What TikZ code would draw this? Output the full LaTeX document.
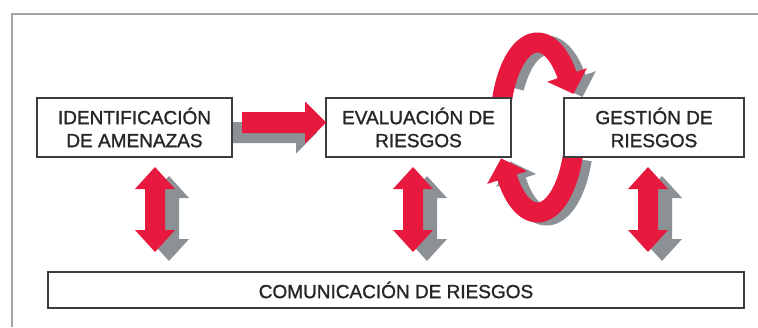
\documentclass[tikz,border=0pt]{standalone}
\usepackage{fontspec}
\setmainfont{Liberation Sans}
\newfontfamily\boxfont[FakeBold=1.3]{Liberation Sans}
\definecolor{ared}{HTML}{E8193E}
\definecolor{agray}{HTML}{8C9196}
\definecolor{boxline}{HTML}{3C3C3C}
\definecolor{framegray}{HTML}{A4A4A4}
\definecolor{txt}{HTML}{262626}
\newcommand\myvarrow[1]{(#1-10,189) -- (#1-20,189) -- (#1,167) -- (#1+20,189) -- (#1+10,189) -- (#1+10,230) -- (#1+20,230) -- (#1,252) -- (#1-20,230) -- (#1-10,230) -- cycle}
\newcommand\myharrow{(242,112) -- (305,112) -- (305,101.5) -- (326,122.5) -- (305,143.5) -- (305,133) -- (242,133) -- cycle}
\begin{document}
\begin{tikzpicture}[x=1pt,y=-1pt,
  box/.style={draw=boxline, line width=1.5pt, fill=white, inner sep=0pt, align=center,
    font=\boxfont\fontsize{19}{23}\selectfont, text=txt},
  redband/.style={draw=ared, line width=20pt},
  grayband/.style={draw=agray, line width=20pt},
  shadowshift/.style={shift={(9,3)}}
]
\useasboundingbox (0,0) rectangle (758,327);
\fill[white] (0,0) rectangle (758,327);
\draw[framegray, line width=1.5pt] (12,327) -- (12,14) -- (758,14);

% cycle arrow (shadow)
\begin{scope}[shadowshift]
\draw[grayband] plot[domain=150:36, samples=60] ({537.5+37.5*cos(\x)},{127.5-85*sin(\x)});
\fill[agray] (586.8,68.2) -- (573.5,93.9) -- (547.2,81.8) -- cycle;
\draw[grayband] plot[domain=-20:-146, samples=60] ({537.5+37.5*cos(\x)},{127.5-85*sin(\x)});
\fill[agray] (527.2,171.1) -- (501.1,158.4) -- (487.2,183.9) -- cycle;
\end{scope}
% cycle arrow (red)
\draw[redband] plot[domain=165:36, samples=60] ({537.5+37.5*cos(\x)},{127.5-85*sin(\x)});
\fill[ared] (586.8,68.2) -- (573.5,93.9) -- (547.2,81.8) -- cycle;
\draw[redband] plot[domain=-20:-146, samples=60] ({537.5+37.5*cos(\x)},{127.5-85*sin(\x)});
\fill[ared] (527.2,171.1) -- (501.1,158.4) -- (487.2,183.9) -- cycle;

% boxes
\node[box, minimum width=195pt, minimum height=59pt] (ident) at (134.5,127.5) {IDENTIFICACIÓN\\DE AMENAZAS};
\node[box, minimum width=185pt, minimum height=59pt] (eval) at (418.5,127.5) {EVALUACIÓN DE\\RIESGOS};
\node[box, minimum width=180pt, minimum height=59pt] (gest) at (654,127.5) {GESTIÓN DE\\RIESGOS};
\node[box, minimum width=696pt, minimum height=36pt] (comm) at (396,290) {COMUNICACIÓN DE RIESGOS};

% horizontal arrow
\fill[agray, shift={(-9,10)}] \myharrow;
\fill[ared] \myharrow;

% vertical double arrows
\foreach \cx in {155,413,648} {
  \fill[agray, shift={(14,9)}] \myvarrow{\cx};
  \fill[ared] \myvarrow{\cx};
}
\end{tikzpicture}
\end{document}
